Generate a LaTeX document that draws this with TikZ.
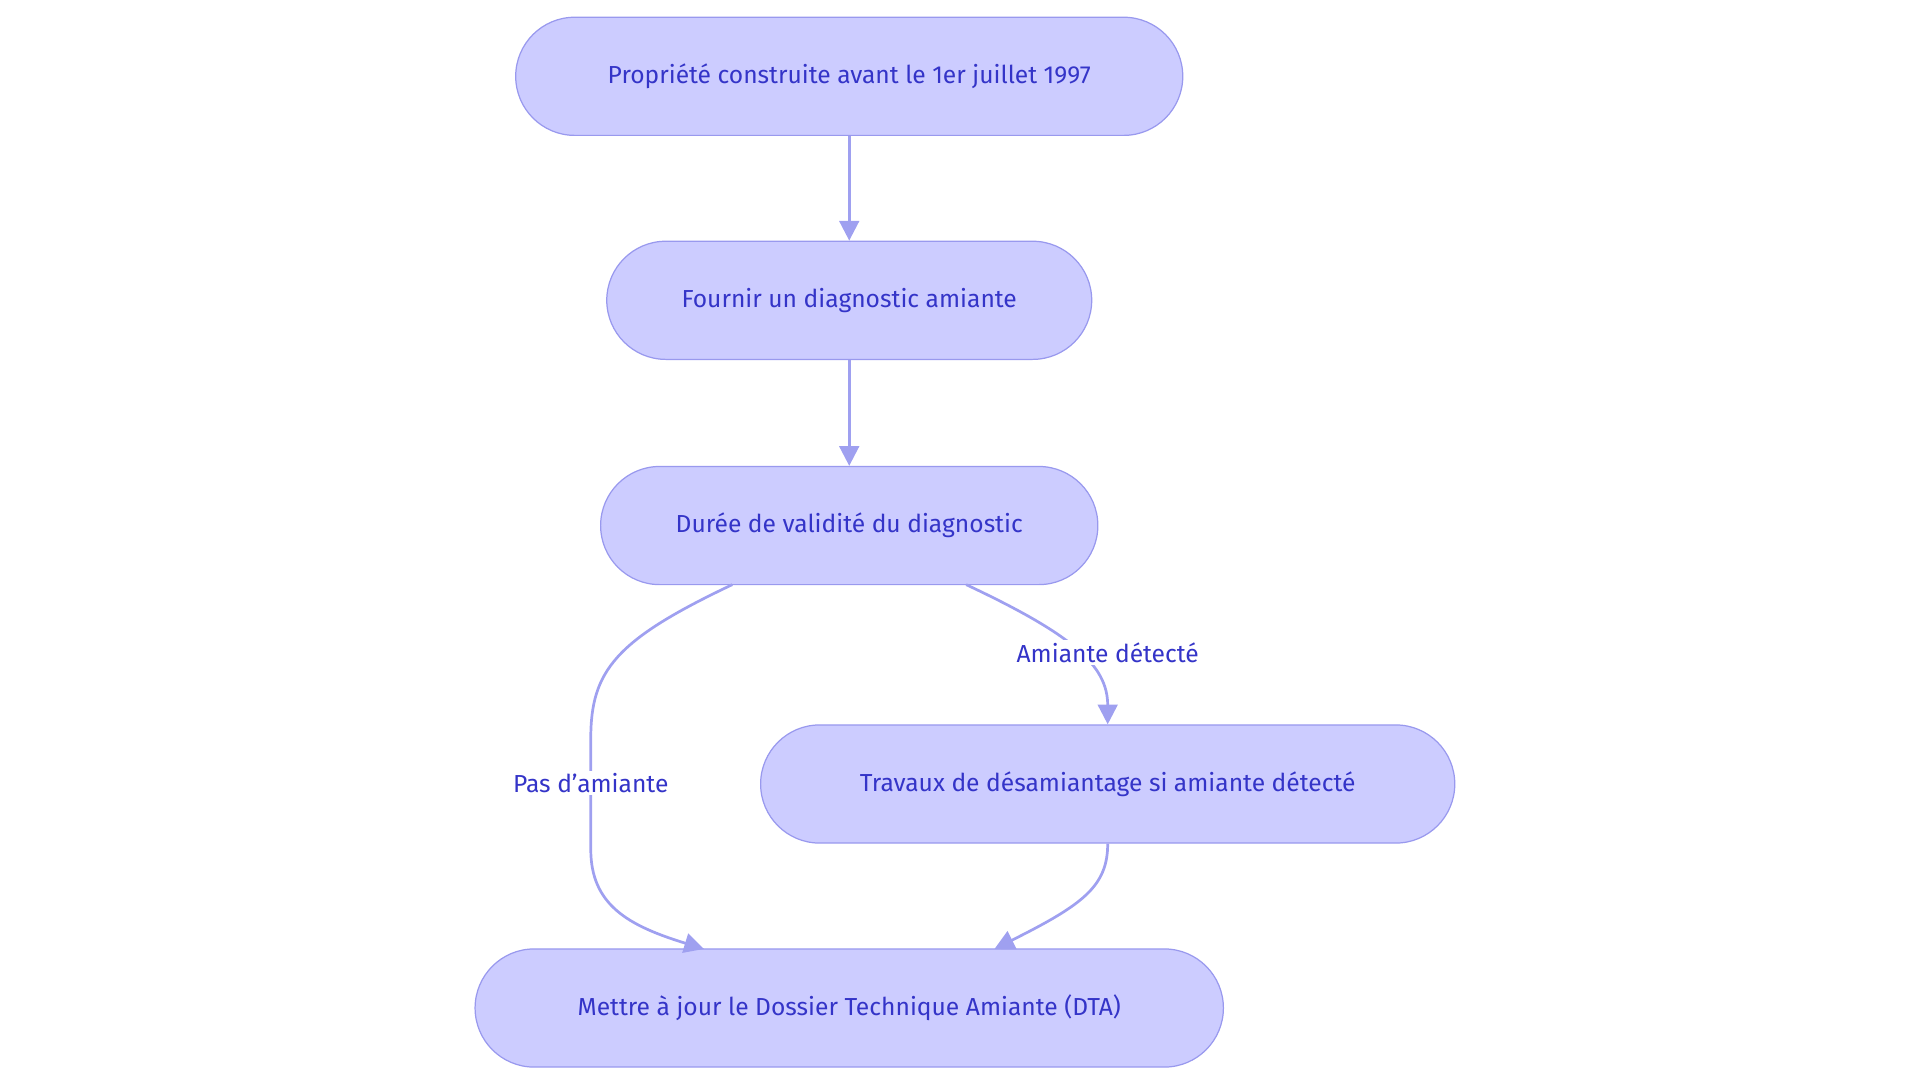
\documentclass[tikz,border=0pt]{standalone}
\usepackage{fontspec}
\setmainfont{Fira Sans}
\usetikzlibrary{arrows.meta}
\definecolor{nfill}{HTML}{CCCCFF}
\definecolor{nline}{HTML}{9999EE}
\definecolor{ntext}{HTML}{3434C8}
\definecolor{eline}{HTML}{9FA0F0}
\begin{document}
\begin{tikzpicture}[x=1pt,y=-1pt,
  box/.style={draw=nline,fill=nfill,rounded corners=48pt,minimum height=96pt,line width=1pt,text=ntext,font=\fontsize{20}{24}\selectfont,inner sep=0pt},
  edge/.style={draw=eline,line width=2.2pt,-{Triangle[length=16pt,width=16pt]}},
  lbl/.style={fill=white,text=ntext,font=\fontsize{20}{24}\selectfont,inner sep=2pt}]
\useasboundingbox (0,0) rectangle (1560,880);
\node[box,minimum width=542pt] (A) at (690,62) {Propriété construite avant le 1er juillet 1997};
\node[box,minimum width=394pt] (B) at (690,244) {Fournir un diagnostic amiante};
\node[box,minimum width=404pt] (C) at (690,427) {Durée de validité du diagnostic};
\node[box,minimum width=564pt] (D) at (900,637) {Travaux de désamiantage si amiante détecté};
\node[box,minimum width=608pt] (E) at (690,819) {Mettre à jour le Dossier Technique Amiante (DTA)};
\draw[edge] (A) -- (B);
\draw[edge] (B) -- (C);
\coordinate (c1) at (595,475);
\coordinate (c2) at (785,475);
\coordinate (e1) at (572,771);
\coordinate (e2) at (808,771);
\draw[edge] (c1) .. controls (500,520) and (480,545) .. (480,600) -- (480,690) .. controls (480,735) and (510,752) .. (e1);
\draw[edge] (c2) .. controls (870,515) and (900,540) .. (D.north);
\draw[edge] (D.south) .. controls (900,720) and (880,735) .. (e2);
\node[lbl] (L1) at (480,636) {Pas d'amiante};
\node[lbl] (L2) at (900,530) {Amiante détecté};
\end{tikzpicture}
\end{document}
